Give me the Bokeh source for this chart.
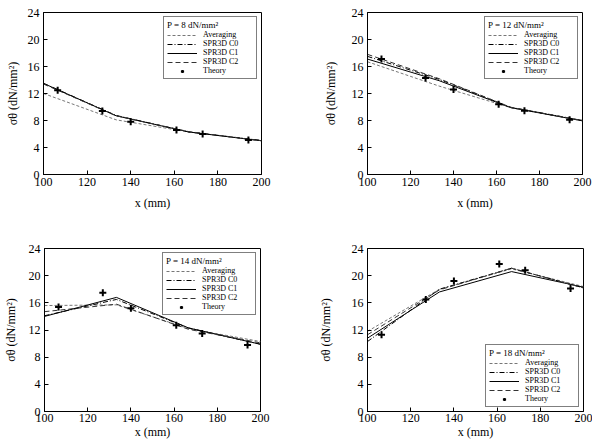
from bokeh.plotting import figure
from bokeh.layouts import column, row
from bokeh.models import FixedTicker
from bokeh.embed import file_html
from bokeh.resources import INLINE

# Element nodes along x (mm) and the positions of the theoretical values
x_nodes = [100, 133.3, 166.7, 200]
theory_x = [106.5, 127, 140, 161, 173, 194]

# P = 8 dN/mm^2
avg_8 = [12.0, 8.1, 6.3, 5.0]
c0_8 = [13.5, 8.75, 6.3, 5.05]
c1_8 = [13.5, 8.7, 6.3, 5.0]
c2_8 = [13.4, 8.7, 6.35, 5.0]
theory_8 = [12.5, 9.4, 7.8, 6.6, 6.0, 5.1]

# P = 12 dN/mm^2
avg_12 = [16.7, 13.1, 9.9, 7.95]
c0_12 = [17.5, 14.1, 9.95, 8.0]
c1_12 = [17.1, 13.9, 9.9, 7.95]
c2_12 = [17.8, 14.2, 9.95, 8.0]
theory_12 = [17.1, 14.3, 12.6, 10.4, 9.45, 8.1]

# P = 14 dN/mm^2
avg_14 = [15.6, 15.7, 12.2, 10.3]
c0_14 = [14.1, 16.5, 12.3, 9.9]
c1_14 = [14.0, 16.8, 12.3, 9.9]
c2_14 = [14.7, 15.8, 12.1, 10.1]
theory_14 = [15.4, 17.5, 15.2, 12.7, 11.5, 9.8]

# P = 18 dN/mm^2
avg_18 = [11.8, 18.0, 21.0, 18.4]
c0_18 = [10.3, 18.0, 21.1, 18.2]
c1_18 = [10.8, 17.6, 20.6, 18.3]
c2_18 = [11.3, 17.9, 21.1, 18.2]
theory_18 = [11.3, 16.5, 19.2, 21.7, 20.8, 18.1]

x_ticks = [100, 120, 140, 160, 180, 200]
y_ticks = [0, 4, 8, 12, 16, 20, 24]

FONT = "Liberation Serif"


def panel(title, avg, c0, c1, c2, theory, w, h, borders, standoffs, legend_loc):
    left, right, top, bottom = borders
    ylab_off, xtick_off, xlab_off = standoffs
    p = figure(width=w, height=h, x_range=(100, 200), y_range=(0, 24),
               output_backend="svg", toolbar_location=None,
               min_border_left=left, min_border_right=right,
               min_border_top=top, min_border_bottom=bottom,
               background_fill_color="white", border_fill_color="white")
    p.grid.visible = False
    p.outline_line_color = "black"
    p.outline_line_width = 1

    p.line(x_nodes, avg, line_color="#777777", line_width=1,
           line_dash="3 2", legend_label="Averaging")
    p.line(x_nodes, c0, line_color="black", line_width=1,
           line_dash="5 2 1 2", legend_label="SPR3D C0")
    p.line(x_nodes, c1, line_color="black", line_width=1,
           legend_label="SPR3D C1")
    p.line(x_nodes, c2, line_color="#333333", line_width=1,
           line_dash="5 3", legend_label="SPR3D C2")
    p.scatter(theory_x, theory, marker="cross", size=7, line_width=2,
              line_color="black", legend_label="Theory")

    p.xaxis.ticker = FixedTicker(ticks=x_ticks)
    p.yaxis.ticker = FixedTicker(ticks=y_ticks)
    p.xaxis.axis_label = "x (mm)"
    p.yaxis.axis_label = "σθ (dN/mm²)"
    for ax in (p.xaxis[0], p.yaxis[0]):
        ax.major_tick_in = 4
        ax.major_tick_out = 0
        ax.minor_tick_line_color = None
        ax.axis_line_color = "black"
        ax.major_tick_line_color = "black"
        ax.major_label_text_font = FONT
        ax.major_label_text_font_size = "12px"
        ax.major_label_text_color = "black"
        ax.axis_label_text_font = FONT
        ax.axis_label_text_font_size = "12px"
        ax.axis_label_text_font_style = "normal"
        ax.axis_label_text_color = "black"
    p.yaxis.major_label_standoff = 4
    p.yaxis.axis_label_standoff = ylab_off
    p.xaxis.major_label_standoff = xtick_off
    p.xaxis.axis_label_standoff = xlab_off

    lg = p.legend[0]
    lg.location = legend_loc
    lg.margin = 4
    lg.title = title
    lg.title_text_font = FONT
    lg.title_text_font_size = "9px"
    lg.title_text_font_style = "normal"
    lg.title_text_color = "black"
    lg.title_standoff = 0
    lg.label_text_font = FONT
    lg.label_text_font_size = "8px"
    lg.label_text_color = "black"
    lg.label_text_line_height = 1.0
    lg.label_height = 8
    lg.glyph_height = 8
    lg.glyph_width = 30
    lg.label_width = 50
    lg.label_standoff = 6
    lg.spacing = 0
    lg.padding = 3
    lg.border_line_color = "black"
    lg.border_line_width = 1.3
    lg.background_fill_color = "white"
    lg.background_fill_alpha = 1
    return p


p1 = panel("P = 8 dN/mm²", avg_8, c0_8, c1_8, c2_8, theory_8,
           296, 220, (43, 35, 10, 46), (5, 3, 7), "top_right")
p2 = panel("P = 12 dN/mm²", avg_12, c0_12, c1_12, c2_12, theory_12,
           296, 220, (71, 10, 12, 43), (11, 3, 7), "top_right")
p3 = panel("P = 14 dN/mm²", avg_14, c0_14, c1_14, c2_14, theory_14,
           296, 221, (42, 36, 26, 29), (8, 2, 0), "top_right")
p4 = panel("P = 18 dN/mm²", avg_18, c0_18, c1_18, c2_18, theory_18,
           296, 221, (71, 9, 28, 28), (16, 2, 0), "bottom_right")

layout = column(row(p1, p2, spacing=0), row(p3, p4, spacing=0), spacing=0)

open("out.html", "w").write(file_html(layout, INLINE))
